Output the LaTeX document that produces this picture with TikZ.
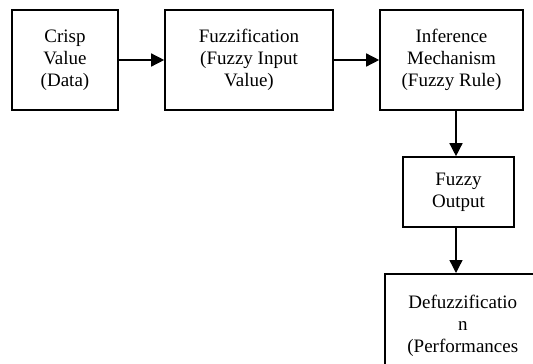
\documentclass[tikz,border=0pt]{standalone}
\usepackage{fontspec}
\setmainfont{Liberation Serif}
\usetikzlibrary{arrows.meta}
\begin{document}
\begin{tikzpicture}[x=1pt,y=-1pt,
  box/.style={draw=black, line width=1.6pt, rectangle, align=center, inner sep=3pt,
    font=\fontsize{19}{22}\selectfont},
  conn/.style={line width=1.4pt, -{Triangle[length=13pt,width=13pt]}}]
\path[use as bounding box, clip] (0,0) rectangle (533,364);
\node[box, minimum width=106pt, minimum height=100pt] (b1) at (65,60) {Crisp\\Value\\(Data)};
\node[box, minimum width=168pt, minimum height=100pt] (b2) at (249,60) {Fuzzification\\(Fuzzy Input\\Value)};
\node[box, minimum width=143pt, minimum height=100pt] (b3) at (451.5,60) {Inference\\Mechanism\\(Fuzzy Rule)};
\node[box, minimum width=111pt, minimum height=70pt] (b4) at (458.5,192) {Fuzzy\\Output};
\node[box, minimum width=156pt, minimum height=140pt, anchor=north west] (b5) at (384,273) {};
\node[font=\fontsize{19}{22}\selectfont, align=center, inner sep=3pt, anchor=north] (b5t) at ([yshift=-19pt]b5.north) {Defuzzificatio\\n\\(Performances};
\draw[conn] (b1.east) -- (b2.west);
\draw[conn] (b2.east) -- (b3.west);
\draw[conn] (b3.south -| 456,0) -- (b4.north -| 456,0);
\draw[conn] (b4.south -| 456,0) -- (b5.north -| 456,0);
\end{tikzpicture}
\end{document}
